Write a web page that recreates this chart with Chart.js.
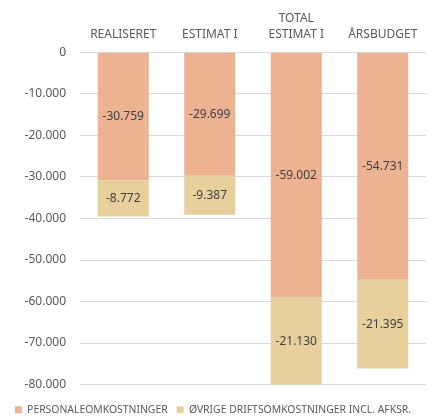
<!DOCTYPE html>
<html>
<head>
<meta charset="utf-8">
<script src="https://cdn.jsdelivr.net/npm/chart.js@4"></script>
<style>
html,body{margin:0;padding:0;background:#fff;}
#wrap{width:431px;height:419px;}
</style>
</head>
<body>
<div id="wrap"><canvas id="c" width="431" height="419"></canvas></div>
<script>
const categories = ["REALISERET", "ESTIMAT I", ["TOTAL", "ESTIMAT I"], "ÅRSBUDGET"];
const seriesNames = ["PERSONALEOMKOSTNINGER", "ØVRIGE DRIFTSOMKOSTNINGER INCL. AFKSR."];
const personale = [-30759, -29699, -59002, -54731];
const oevrige = [-8772, -9387, -21130, -21395];
const yMin = -80000, yMax = 0, yStep = 10000;

const FONT = "'Noto Sans', 'Open Sans', sans-serif";
function fmt(v){
  const s = Math.abs(Math.round(v)).toString().replace(/\B(?=(\d{3})+(?!\d))/g, ".");
  return (v < 0 ? "-" : "") + s;
}

const labelPlugin = {
  id: 'segLabels',
  afterDatasetsDraw(chart){
    const ctx = chart.ctx;
    ctx.save();
    ctx.font = "12px " + FONT;
    ctx.fillStyle = "#404040";
    ctx.textAlign = "center";
    ctx.textBaseline = "middle";
    chart.data.datasets.forEach((ds, di) => {
      const meta = chart.getDatasetMeta(di);
      meta.data.forEach((bar, i) => {
        const y = (bar.y + bar.base) / 2;
        ctx.fillText(fmt(ds.data[i]), bar.x, y);
      });
    });
    ctx.restore();
  }
};

new Chart(document.getElementById('c'), {
  type: 'bar',
  data: {
    labels: categories,
    datasets: [
      { label: seriesNames[0], data: personale, backgroundColor: '#EDB292', categoryPercentage: 1, barPercentage: 0.59 },
      { label: seriesNames[1], data: oevrige, backgroundColor: '#E8D09C', categoryPercentage: 1, barPercentage: 0.59 }
    ]
  },
  options: {
    responsive: false,
    animation: false,
    layout: { padding: { left: 0, right: 5, top: 8, bottom: -6 } },
    plugins: {
      legend: {
        position: 'bottom',
        title: { display: true, text: ' ', font: { size: 1, lineHeight: 1 }, padding: { top: 10, bottom: 0 } },
        labels: {
          boxWidth: 7, boxHeight: 7, padding: 9,
          color: '#595959',
          font: { family: FONT, size: 10.4 }
        }
      },
      tooltip: { enabled: false }
    },
    scales: {
      x: {
        stacked: true,
        position: 'top',
        grid: { display: false },
        border: { display: false },
        ticks: { color: '#595959', font: { family: FONT, size: 12, lineHeight: 1.35 }, padding: 2 }
      },
      y: {
        stacked: true,
        min: yMin, max: yMax,
        grid: { color: '#D9D9D9', drawTicks: false },
        border: { display: false },
        afterFit(s){ s.width = 80; },
        ticks: {
          stepSize: yStep,
          color: '#595959',
          padding: 14,
          font: { family: FONT, size: 12 },
          callback: v => fmt(v)
        }
      }
    }
  },
  plugins: [labelPlugin]
});
</script>
</body>
</html>
